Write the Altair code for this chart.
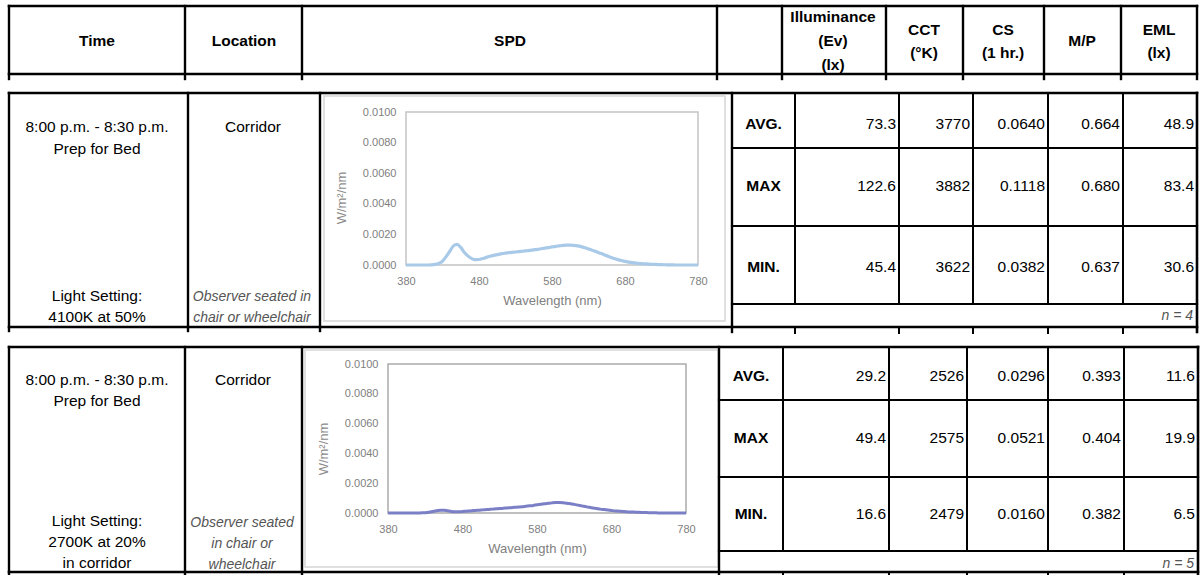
import altair as alt
import pandas as pd

W, H = 1200, 575

# ---------------------------------------------------------------- SPD data
wavelength = list(range(380, 785, 5))

spd_4100k = [
    0, 0, 0, 0, 0, 0, 0, 0.00001, 0.00004, 0.0001,
    0.00025, 0.00055, 0.0009, 0.00125, 0.00135, 0.00115, 0.00082, 0.00058, 0.00042, 0.00035,
    0.00036, 0.00042, 0.0005, 0.00057, 0.00063, 0.00068, 0.00073, 0.00077, 0.0008, 0.00083,
    0.00085, 0.00088, 0.0009, 0.00093, 0.00096, 0.00099, 0.00102, 0.00106, 0.0011, 0.00114,
    0.00118, 0.00122, 0.00125, 0.00128, 0.0013, 0.0013, 0.00128, 0.00125, 0.0012, 0.00113,
    0.00105, 0.00097, 0.00088, 0.00079, 0.0007, 0.0006, 0.0005, 0.00042, 0.00035, 0.00029,
    0.00024, 0.00019, 0.00015, 0.00012, 0.0001, 0.00008, 0.00007, 0.00005, 0.00004, 0.00003,
    0.00002, 0.000015, 0.00001, 0.000005, 0, 0, 0, 0, 0, 0, 0,
]

spd_2700k = [
    0, 0, 0, 0, 0, 0, 0, 0, 0, 0.00001,
    0.00002, 0.00005, 0.0001, 0.00015, 0.00018, 0.00019, 0.00015, 0.0001, 0.00008, 0.00008,
    0.0001, 0.00012, 0.00014, 0.00016, 0.00018, 0.0002, 0.00022, 0.00024, 0.00026, 0.00028,
    0.0003, 0.00032, 0.00034, 0.00036, 0.00038, 0.0004, 0.00042, 0.00045, 0.00048, 0.00051,
    0.00055, 0.00058, 0.00062, 0.00065, 0.00068, 0.0007, 0.0007, 0.00069, 0.00066, 0.00062,
    0.00058, 0.00053, 0.00048, 0.00043, 0.00038, 0.00034, 0.0003, 0.00026, 0.00023, 0.0002,
    0.00017, 0.00014, 0.00012, 0.0001, 0.00008, 0.00007, 0.00006, 0.00005, 0.00004, 0.00003,
    0.00002, 0.000015, 0.00001, 0.000005, 0, 0, 0, 0, 0, 0, 0,
]

wl_ticks = [380, 480, 580, 680, 780]
spd_ticks = [0.0, 0.002, 0.004, 0.006, 0.008, 0.010]

# ---------------------------------------------------------------- table text
header_lines = [
    ("Time", 97, 41), ("Location", 244, 41), ("SPD", 510, 41),
    ("Illuminance", 833, 17), ("(Ev)", 833, 41), ("(lx)", 833, 65),
    ("CCT", 924, 30), ("(°K)", 924, 53),
    ("CS", 1003, 30), ("(1 hr.)", 1003, 53),
    ("M/P", 1082, 41),
    ("EML", 1159, 30), ("(lx)", 1159, 53),
]

time_1 = ["8:00 p.m. - 8:30 p.m.", "Prep for Bed"]
setting_1 = ["Light Setting:", "4100K at 50%"]
location_1 = "Corridor"
observer_1 = ["Observer seated in", "chair or wheelchair"]

time_2 = ["8:00 p.m. - 8:30 p.m.", "Prep for Bed"]
setting_2 = ["Light Setting:", "2700K at 20%", "in corridor"]
location_2 = "Corridor"
observer_2 = ["Observer seated", "in chair or", "wheelchair"]

row_labels = ["AVG.", "MAX", "MIN."]

illum_1 = [73.3, 122.6, 45.4]
cct_1 = [3770, 3882, 3622]
cs_1 = [0.0640, 0.1118, 0.0382]
mp_1 = [0.664, 0.680, 0.637]
eml_1 = [48.9, 83.4, 30.6]
n_1 = 4

illum_2 = [29.2, 49.4, 16.6]
cct_2 = [2526, 2575, 2479]
cs_2 = [0.0296, 0.0521, 0.0160]
mp_2 = [0.393, 0.404, 0.382]
eml_2 = [11.6, 19.9, 6.5]
n_2 = 5

value_formats = ["{:.1f}", "{:d}", "{:.4f}", "{:.3f}", "{:.1f}"]

# ---------------------------------------------------------------- layout (pixels)
FONT = "Liberation Sans, Arial, Helvetica, sans-serif"
HEAD_TOP, HEAD_BOT = 6, 74
HEAD_COLS = [9, 185, 302, 717, 782, 886, 963, 1044, 1121, 1197]

blocks = [
    dict(top=93, bot=327, left_cols=[9, 188, 320], tbl_left=732,
         tbl_cols=[795, 899, 973, 1048, 1123], right=1197, rows=[148, 226, 304],
         panel=(324, 96, 725, 321), plot=(406, 112, 698, 265), ytitle_shift=9,
         text_y=[124, 186, 267], n_y=316,
         time_x=97, time_y=[127, 149], set_y=[296, 317],
         loc_x=253, loc_y=127, obs_y=[297, 318],
         color="#a9c9e8", width=3.2,
         frame="#c4c4c4"),
    dict(top=347, bot=572, left_cols=[9, 185, 302], tbl_left=719,
         tbl_cols=[783, 889, 967, 1048, 1124], right=1198, rows=[400, 477, 551],
         panel=(305, 350, 718, 567), plot=(388, 364, 686, 513), ytitle_shift=10,
         text_y=[376, 438, 514], n_y=564,
         time_x=97, time_y=[380, 401], set_y=[521, 542, 563],
         loc_x=243, loc_y=380, obs_y=[523, 544, 565],
         color="#7b7fc6", width=3.0,
         frame="#ababab"),
]
blocks[0].update(time=time_1, setting=setting_1, loc=location_1, obs=observer_1,
                 cols=[illum_1, cct_1, cs_1, mp_1, eml_1], n=n_1, spd=spd_4100k)
blocks[1].update(time=time_2, setting=setting_2, loc=location_2, obs=observer_2,
                 cols=[illum_2, cct_2, cs_2, mp_2, eml_2], n=n_2, spd=spd_2700k)

PX = dict(scale=None, axis=None)

# ---------------------------------------------------------------- grid segments
segs = []


def seg(x, y, x2, y2, w=2.2):
    segs.append(dict(x=x, y=y, x2=x2, y2=y2, w=w))


# header box
seg(HEAD_COLS[0], HEAD_TOP, HEAD_COLS[-1], HEAD_TOP, 2.6)
seg(HEAD_COLS[0], HEAD_BOT, HEAD_COLS[-1], HEAD_BOT, 2.6)
for cx in HEAD_COLS:
    seg(cx, HEAD_TOP, cx, HEAD_BOT + 5, 2.4)

for b in blocks:
    seg(b["left_cols"][0], b["top"], b["right"], b["top"], 2.6)
    seg(b["left_cols"][0], b["bot"], b["right"], b["bot"], 2.6)
    for cx in b["left_cols"]:
        seg(cx, b["top"], cx, b["bot"] + 4, 2.4)
    seg(b["tbl_left"], b["top"], b["tbl_left"], b["bot"] + 5, 2.4)
    seg(b["right"], b["top"], b["right"], b["bot"] + 5, 2.6)
    for cx in b["tbl_cols"]:
        seg(cx, b["top"], cx, b["rows"][-1], 2.0)
        seg(cx, b["bot"], cx, b["bot"] + 6, 2.0)
    for ry in b["rows"]:
        seg(b["tbl_left"], ry, b["right"], ry, 2.2)

seg_df = pd.DataFrame(segs)

rules = alt.Chart(seg_df).mark_rule(color="black", strokeCap="square").encode(
    x=alt.X("x:Q", **PX), x2="x2:Q",
    y=alt.Y("y:Q", **PX), y2="y2:Q",
    strokeWidth=alt.StrokeWidth("w:Q", scale=None, legend=None),
)

# chart-area panels behind each SPD plot
panel_df = pd.DataFrame([dict(x=b["panel"][0], y=b["panel"][1], x2=b["panel"][2], y2=b["panel"][3])
                         for b in blocks])
panels = alt.Chart(panel_df).mark_rect(fillOpacity=0, stroke="#d6d6d6", strokeWidth=1.5).encode(
    x=alt.X("x:Q", **PX), x2="x2:Q", y=alt.Y("y:Q", **PX), y2="y2:Q"
)

# ---------------------------------------------------------------- SPD plots
spd_layers = []
for b in blocks:
    px0, py0, px1, py1 = b["plot"]
    xs = alt.Scale(domain=[wl_ticks[0], wl_ticks[-1]], range=[px0, px1], nice=False, zero=False)
    ys = alt.Scale(domain=[spd_ticks[0], spd_ticks[-1]], range=[py1, py0], nice=False, zero=False)
    df = pd.DataFrame({"wavelength": wavelength, "irradiance": b["spd"]})

    frame_df = pd.DataFrame([dict(w0=wl_ticks[0], w1=wl_ticks[-1], v0=spd_ticks[0], v1=spd_ticks[-1])])
    frame = alt.Chart(frame_df).mark_rect(fillOpacity=0, stroke=b["frame"], strokeWidth=1.5).encode(
        x=alt.X("w0:Q", scale=xs, axis=None), x2="w1:Q",
        y=alt.Y("v0:Q", scale=ys, axis=None), y2="v1:Q",
    )

    line = alt.Chart(df).mark_line(
        color=b["color"], strokeWidth=b["width"], interpolate="monotone"
    ).encode(
        x=alt.X("wavelength:Q", scale=xs, axis=alt.Axis(
            orient="bottom", offset=py1 - H, values=wl_ticks, format="d",
            title="Wavelength (nm)", ticks=False, domain=False, grid=False,
            labelFlush=False, labelOverlap=False, labelBound=False,
            labelFont=FONT, labelFontSize=11, labelColor="#808080", labelPadding=10,
            titleFont=FONT, titleFontSize=13, titleFontWeight="normal",
            titleColor="#808080", titlePadding=8, zindex=2,
        )),
        y=alt.Y("irradiance:Q", scale=ys, axis=alt.Axis(
            orient="left", offset=-px0, values=spd_ticks, format=".4f",
            title="W/m²/nm", ticks=False, domain=False, grid=False,
            labelOverlap=False, labelBound=False,
            labelFont=FONT, labelFontSize=11, labelColor="#808080", labelPadding=10,
            titleFont=FONT, titleFontSize=13, titleFontWeight="normal",
            titleColor="#8c8c8c", titlePadding=14, zindex=2,
            titleY=(py0 + py1) / 2 + b["ytitle_shift"],
        )),
    )
    spd_layers += [frame, line]

# ---------------------------------------------------------------- texts
head_df = pd.DataFrame(header_lines, columns=["text", "x", "y"])
body_rows, italic_rows, label_rows, value_rows, n_rows = [], [], [], [], []
for b in blocks:
    for t, y in zip(b["time"], b["time_y"]):
        body_rows.append(dict(text=t, x=b["time_x"], y=y))
    for t, y in zip(b["setting"], b["set_y"]):
        body_rows.append(dict(text=t, x=b["time_x"], y=y))
    body_rows.append(dict(text=b["loc"], x=b["loc_x"], y=b["loc_y"]))
    for t, y in zip(b["obs"], b["obs_y"]):
        italic_rows.append(dict(text=t, x=b["loc_x"] - 1, y=y))
    lab_x = (b["tbl_left"] + b["tbl_cols"][0]) / 2
    rights = b["tbl_cols"][1:] + [b["right"]]
    for r, (lab, y) in enumerate(zip(row_labels, b["text_y"])):
        label_rows.append(dict(text=lab, x=lab_x, y=y))
        for col, fmt, rx in zip(b["cols"], value_formats, rights):
            value_rows.append(dict(text=fmt.format(col[r]), x=rx - 3, y=y))
    n_rows.append(dict(text=f"n = {b['n']}", x=b["right"] - 4, y=b["n_y"]))


def texts(rows, **kw):
    return alt.Chart(pd.DataFrame(rows)).mark_text(font=FONT, baseline="middle", **kw).encode(
        x=alt.X("x:Q", **PX), y=alt.Y("y:Q", **PX), text="text:N"
    )


layers = [
    panels,
    *spd_layers,
    rules,
    texts(head_df.to_dict("records"), fontSize=15.5, fontWeight="bold", color="black", align="center"),
    texts(body_rows, fontSize=15.5, color="black", align="center"),
    texts(italic_rows, fontSize=14, fontStyle="italic", color="#555555", align="center"),
    texts(label_rows, fontSize=15.5, fontWeight="bold", color="black", align="center"),
    texts(value_rows, fontSize=15.5, color="black", align="right"),
    texts(n_rows, fontSize=14, fontStyle="italic", color="#555555", align="right"),
]

chart = (
    alt.layer(*layers)
    .resolve_scale(x="independent", y="independent")
    .properties(width=W, height=H, autosize=alt.AutoSizeParams(type="none"), padding=0,
                background="white")
    .configure_view(stroke=None)
)

chart.save("out.html", embed_options={"renderer": "svg", "actions": False})
